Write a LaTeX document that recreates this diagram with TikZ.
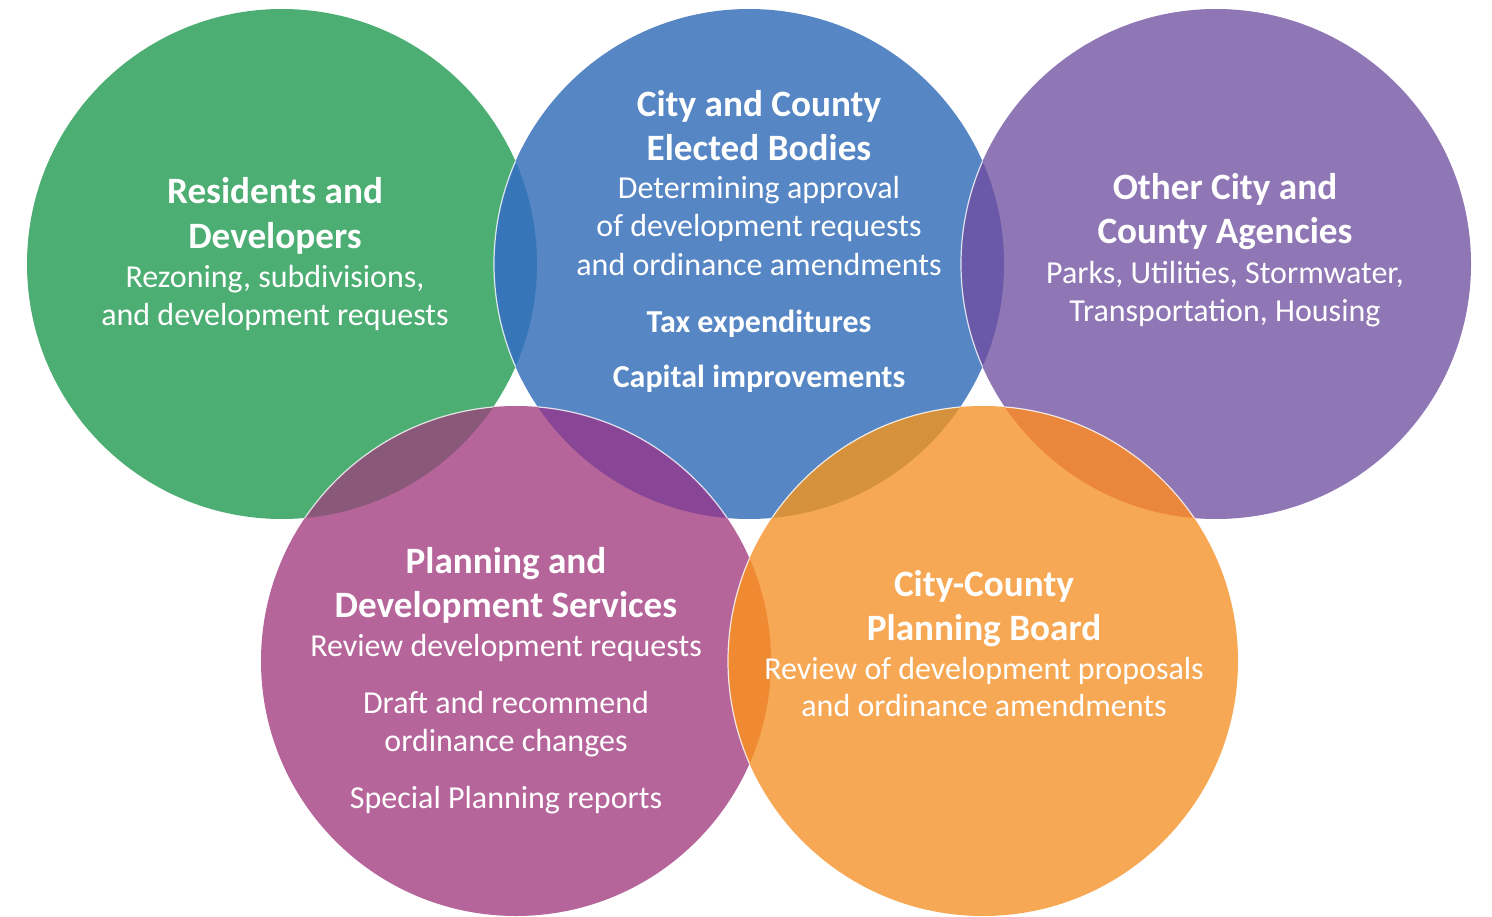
\documentclass[tikz,border=0pt]{standalone}
\usepackage{fontspec}
\setmainfont{Carlito}
\definecolor{cgreen}{HTML}{4DAE74}
\definecolor{cblue}{HTML}{5686C4}
\definecolor{cpurple}{HTML}{8F76B4}
\definecolor{cmag}{HTML}{B6659B}
\definecolor{corange}{HTML}{F6A855}
\definecolor{lGB}{HTML}{3676B8}
\definecolor{lBP}{HTML}{6A58A8}
\definecolor{lGM}{HTML}{8A5878}
\definecolor{lBM}{HTML}{8A4696}
\definecolor{lBO}{HTML}{D5913C}
\definecolor{lPO}{HTML}{EB873C}
\definecolor{lMO}{HTML}{F08A32}
\tikzset{
  disc/.style={circle, inner sep=0pt, minimum size=510pt, draw=none},
  ttl/.style={anchor=base, text=white, inner sep=0pt, font=\fontsize{37.2}{44}\selectfont\bfseries},
  txt/.style={anchor=base, text=white, inner sep=0pt, font=\fontsize{32}{38}\selectfont},
  txtb/.style={anchor=base, text=white, inner sep=0pt, font=\fontsize{32}{38}\selectfont\bfseries},
  rim/.style={draw=white, line width=1.2pt, draw opacity=0.8}
}
\newcommand{\lens}[3]{%
  \begin{scope}
    \clip (#1.center) circle[radius=255pt];
    \fill[#3] (#2.center) circle[radius=255pt];
    \draw[rim] (#2.center) circle[radius=255pt];
  \end{scope}}
\begin{document}
\begin{tikzpicture}[x=1pt, y=-1pt]
\useasboundingbox (0,0) rectangle (1492,917);
% circles
\node[disc, fill=cgreen]  (g) at (282,264) {};
\node[disc, fill=cblue]   (b) at (749,264) {};
\node[disc, fill=cpurple] (p) at (1216,264) {};
\node[disc, fill=cmag]    (m) at (516,661) {};
\node[disc, fill=corange] (o) at (983,661) {};
% overlaps
\lens{g}{b}{lGB}
\lens{b}{p}{lBP}
\lens{g}{m}{lGM}
\lens{b}{m}{lBM}
\lens{b}{o}{lBO}
\lens{p}{o}{lPO}
\lens{m}{o}{lMO}
% green text
\node[ttl] (g1) at (275,204) {Residents and};
\node[ttl] (g2) at (275,249) {Developers};
\node[txt] (g3) at (275,288) {Rezoning, subdivisions,};
\node[txt] (g4) at (275,326) {and development requests};
% blue text
\node[ttl] (b1) at (759,117) {City and County};
\node[ttl] (b2) at (759,161) {Elected Bodies};
\node[txt] (b3) at (759,199) {Determining approval};
\node[txt] (b4) at (759,237) {of development requests};
\node[txt] (b5) at (759,276) {and ordinance amendments};
\node[txtb] (b6) at (759,333) {Tax expenditures};
\node[txtb] (b7) at (759,388) {Capital improvements};
% purple text
\node[ttl] (p1) at (1225,200) {Other City and};
\node[ttl] (p2) at (1225,244) {County Agencies};
\node[txt] (p3) at (1225,284) {Parks, Utilities, Stormwater,};
\node[txt] (p4) at (1225,322) {Transportation, Housing};
% magenta text
\node[ttl] (m1) at (506,573) {Planning and};
\node[ttl] (m2) at (506,617) {Development Services};
\node[txt] (m3) at (506,656) {Review development requests};
\node[txt] (m4) at (506,713) {Draft and recommend};
\node[txt] (m5) at (506,751) {ordinance changes};
\node[txt] (m6) at (506,808) {Special Planning reports};
% orange text
\node[ttl] (o1) at (984,596) {City-County};
\node[ttl] (o2) at (984,640) {Planning Board};
\node[txt] (o3) at (984,679) {Review of development proposals};
\node[txt] (o4) at (984,716) {and ordinance amendments};
\end{tikzpicture}
\end{document}
